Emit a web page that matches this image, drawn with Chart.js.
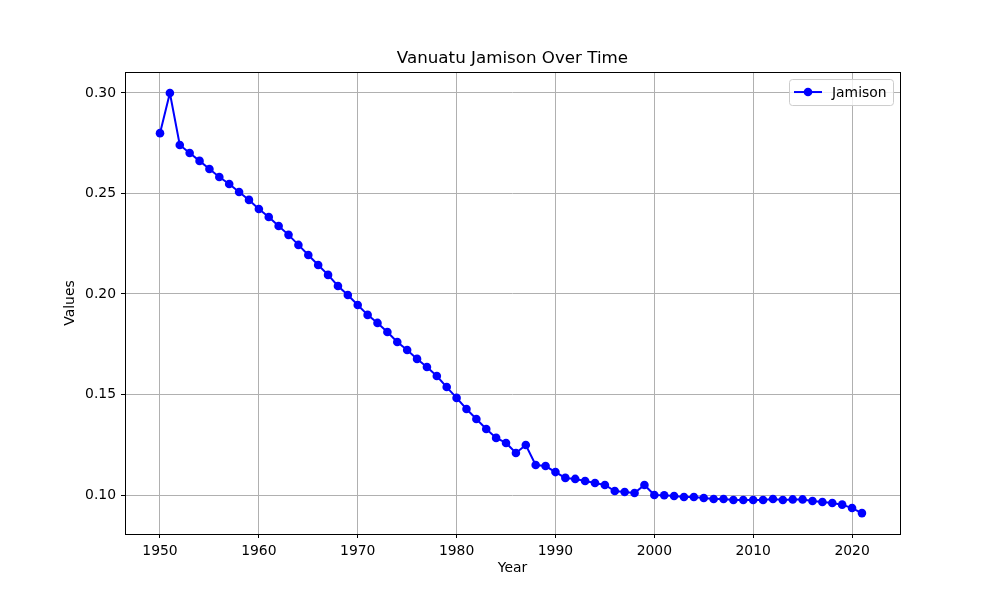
<!DOCTYPE html>
<html>
<head>
<meta charset="utf-8">
<script src="https://cdn.jsdelivr.net/npm/chart.js@4.4.0/dist/chart.umd.min.js"></script>
<style>
  html, body { margin: 0; padding: 0; background: #fff; }
  #wrap { width: 1000px; height: 600px; position: relative; }
</style>
</head>
<body>
<div id="wrap"><canvas id="chart" width="1000" height="600"></canvas></div>
<script>
// data
const years = [];
for (let y = 1950; y <= 2021; y++) years.push(y);

const jamison = [
  0.2800, 0.3000, 0.2741, 0.2701, 0.2662, 0.2622, 0.2582, 0.2547, 0.2507, 0.2468,
  0.2423, 0.2383, 0.2338, 0.2294, 0.2244, 0.2194, 0.2144, 0.2095, 0.2040, 0.1995,
  0.1945, 0.1896, 0.1856, 0.1811, 0.1761, 0.1721, 0.1677, 0.1637, 0.1592, 0.1537,
  0.1483, 0.1428, 0.1378, 0.1328, 0.1284, 0.1259, 0.1209, 0.1249, 0.1149, 0.1144,
  0.1114, 0.1085, 0.1080, 0.1070, 0.1060, 0.1050, 0.1020, 0.1015, 0.1010, 0.1050,
  0.1000, 0.0999, 0.0995, 0.0990, 0.0990, 0.0985, 0.0980, 0.0980, 0.0975, 0.0975,
  0.0975, 0.0975, 0.0980, 0.0975, 0.0978, 0.0978, 0.0970, 0.0965, 0.0960, 0.0952,
  0.0935, 0.0910
];

const xTicks = [1950, 1960, 1970, 1980, 1990, 2000, 2010, 2020];
const yTicks = [0.10, 0.15, 0.20, 0.25, 0.30];

const FONT = 'DejaVu Sans';
const FS = 13.9;

// legend box drawn inside the plot, top right
const legendBox = {
  id: 'legendBox',
  afterDraw(chart) {
    const { ctx, chartArea } = chart;
    const w = 104, h = 26;
    const x = chartArea.right - w - 7, y = chartArea.top + 7;
    ctx.save();
    ctx.fillStyle = 'rgba(255,255,255,0.8)';
    ctx.strokeStyle = '#cccccc';
    ctx.lineWidth = 1;
    ctx.beginPath();
    ctx.roundRect(x + 0.5, y + 0.5, w, h, 3);
    ctx.fill();
    ctx.stroke();
    ctx.strokeStyle = '#0000ff';
    ctx.lineWidth = 2;
    ctx.beginPath();
    ctx.moveTo(x + 5, y + h / 2);
    ctx.lineTo(x + 33, y + h / 2);
    ctx.stroke();
    ctx.fillStyle = '#0000ff';
    ctx.beginPath();
    ctx.arc(x + 19, y + h / 2, 4.3, 0, Math.PI * 2);
    ctx.fill();
    ctx.fillStyle = '#000';
    ctx.font = `${FS}px "${FONT}"`;
    ctx.textBaseline = 'middle';
    ctx.fillText('Jamison', x + 43, y + h / 2 + 1);
    ctx.restore();
  }
};

// black frame round the plot area
const frame = {
  id: 'frame',
  afterDraw(chart) {
    const { ctx, chartArea: a } = chart;
    ctx.save();
    ctx.strokeStyle = '#000';
    ctx.lineWidth = 1;
    ctx.strokeRect(Math.round(a.left) + 0.5, Math.round(a.top) + 0.5,
      Math.round(a.right - a.left), Math.round(a.bottom - a.top));
    ctx.restore();
  }
};

new Chart(document.getElementById('chart'), {
  type: 'line',
  data: {
    datasets: [{
      label: 'Jamison',
      data: years.map((y, i) => ({ x: y, y: jamison[i] })),
      borderColor: '#0000ff',
      backgroundColor: '#0000ff',
      borderWidth: 2,
      pointRadius: 4.3,
      pointHoverRadius: 4.3,
      pointBorderWidth: 0,
      tension: 0
    }]
  },
  options: {
    responsive: false,
    animation: false,
    layout: { padding: { top: 10, right: 0, bottom: 0, left: 25 } },
    plugins: {
      legend: { display: false },
      tooltip: { enabled: false },
      title: {
        display: true,
        text: 'Vanuatu Jamison Over Time',
        color: '#000',
        font: { family: FONT, size: 16.7, weight: 'normal' },
        padding: { top: 39, bottom: 3 }
      }
    },
    scales: {
      x: {
        type: 'linear',
        min: 1946.46,
        max: 2024.85,
        afterBuildTicks: axis => { axis.ticks = xTicks.map(v => ({ value: v })); },
        afterFit: axis => { axis.height = 66; },
        ticks: {
          color: '#000',
          font: { family: FONT, size: FS },
          padding: 5,
          maxRotation: 0,
          callback: v => String(v)
        },
        grid: { color: '#b0b0b0', lineWidth: 1, drawTicks: true, tickLength: 4, tickColor: '#000' },
        border: { display: false },
        title: {
          display: true,
          text: 'Year',
          color: '#000',
          font: { family: FONT, size: FS },
          padding: { top: 2, bottom: 23 }
        }
      },
      y: {
        min: 0.0806,
        max: 0.3104,
        afterBuildTicks: axis => { axis.ticks = yTicks.map(v => ({ value: v })); },
        afterFit: axis => { axis.width = 100; },
        ticks: {
          color: '#000',
          font: { family: FONT, size: FS },
          padding: 5,
          callback: v => v.toFixed(2)
        },
        grid: { color: '#b0b0b0', lineWidth: 1, drawTicks: true, tickLength: 4, tickColor: '#000' },
        border: { display: false },
        title: {
          display: true,
          text: 'Values',
          color: '#000',
          font: { family: FONT, size: FS },
          padding: { top: 37, bottom: 4 }
        }
      },
      yRight: {
        position: 'right',
        display: true,
        afterFit: axis => { axis.width = 100; },
        ticks: { display: false },
        grid: { display: false, drawTicks: false },
        border: { display: false }
      }
    }
  },
  plugins: [frame, legendBox]
});
</script>
</body>
</html>
